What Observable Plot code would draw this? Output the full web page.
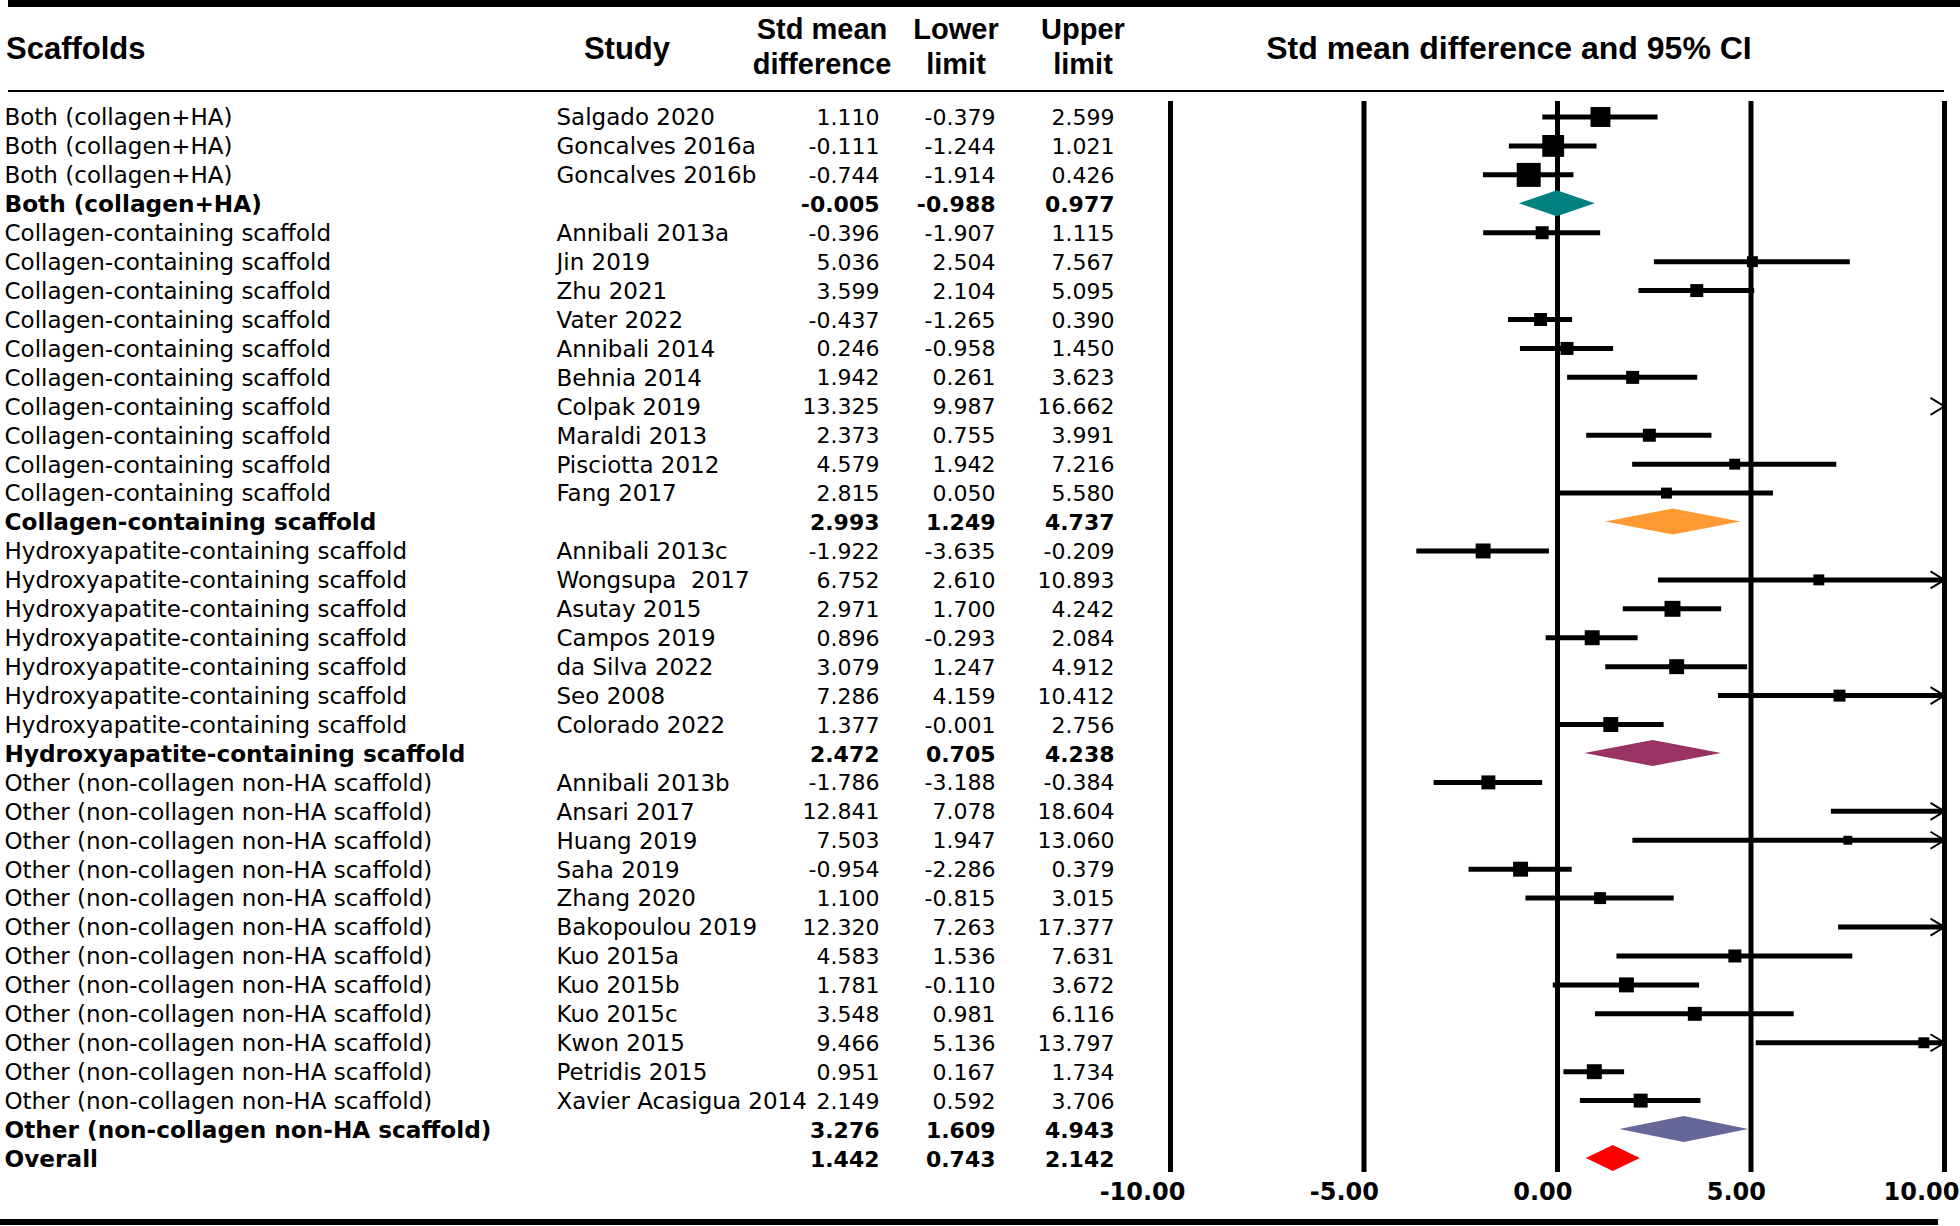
<!DOCTYPE html>
<html>
<head>
<meta charset="utf-8">
<script src="https://cdn.jsdelivr.net/npm/d3@7"></script>
<script src="https://cdn.jsdelivr.net/npm/@observablehq/plot@0.6"></script>
<style>
  html, body { margin: 0; padding: 0; background: #fff; }
  #wrap { position: relative; width: 1960px; height: 1226px; overflow: hidden; background: #fff; }
  .rule { position: absolute; background: #000; }
  .hd { position: absolute; font-family: "Liberation Sans", Arial, sans-serif; font-weight: bold; color: #000;
        white-space: nowrap; line-height: 1; transform: translate(-50%, -50%); }
  .hd.left { transform: translate(0, -50%); }
  #chart { position: absolute; left: 0; top: 92px; }
</style>
</head>
<body>
<div id="wrap">
  <div class="rule" style="left:8px; top:0px; width:1952px; height:7px;"></div>
  <div class="hd left" style="left:6px; top:48px; font-size:31px;">Scaffolds</div>
  <div class="hd" style="left:627px; top:48px; font-size:31px;">Study</div>
  <div class="hd" style="left:822px; top:29px; font-size:29px;">Std mean</div>
  <div class="hd" style="left:822px; top:64px; font-size:29px;">difference</div>
  <div class="hd" style="left:956px; top:29px; font-size:29px;">Lower</div>
  <div class="hd" style="left:956px; top:64px; font-size:29px;">limit</div>
  <div class="hd" style="left:1083px; top:29px; font-size:29px;">Upper</div>
  <div class="hd" style="left:1083px; top:64px; font-size:29px;">limit</div>
  <div class="hd" style="left:1509px; top:48px; font-size:32px;">Std mean difference and 95% CI</div>
  <div class="rule" style="left:8px; top:90px; width:1936px; height:2.5px;"></div>
  <div id="chart"></div>
  <div class="rule" style="left:0px; top:1219px; width:1938px; height:6px;"></div>
</div>
<script>
// ---- data ----
const scaffold = [
  "Both (collagen+HA)", "Both (collagen+HA)", "Both (collagen+HA)", "Both (collagen+HA)",
  "Collagen-containing scaffold", "Collagen-containing scaffold", "Collagen-containing scaffold",
  "Collagen-containing scaffold", "Collagen-containing scaffold", "Collagen-containing scaffold",
  "Collagen-containing scaffold", "Collagen-containing scaffold", "Collagen-containing scaffold",
  "Collagen-containing scaffold", "Collagen-containing scaffold",
  "Hydroxyapatite-containing scaffold", "Hydroxyapatite-containing scaffold", "Hydroxyapatite-containing scaffold",
  "Hydroxyapatite-containing scaffold", "Hydroxyapatite-containing scaffold", "Hydroxyapatite-containing scaffold",
  "Hydroxyapatite-containing scaffold", "Hydroxyapatite-containing scaffold",
  "Other (non-collagen non-HA scaffold)", "Other (non-collagen non-HA scaffold)", "Other (non-collagen non-HA scaffold)",
  "Other (non-collagen non-HA scaffold)", "Other (non-collagen non-HA scaffold)", "Other (non-collagen non-HA scaffold)",
  "Other (non-collagen non-HA scaffold)", "Other (non-collagen non-HA scaffold)", "Other (non-collagen non-HA scaffold)",
  "Other (non-collagen non-HA scaffold)", "Other (non-collagen non-HA scaffold)", "Other (non-collagen non-HA scaffold)",
  "Other (non-collagen non-HA scaffold)",
  "Overall"
];
const study = [
  "Salgado 2020", "Goncalves 2016a", "Goncalves 2016b", "",
  "Annibali 2013a", "Jin 2019", "Zhu 2021", "Vater 2022", "Annibali 2014", "Behnia 2014",
  "Colpak 2019", "Maraldi 2013", "Pisciotta 2012", "Fang 2017", "",
  "Annibali 2013c", "Wongsupa  2017", "Asutay 2015", "Campos 2019", "da Silva 2022", "Seo 2008", "Colorado 2022", "",
  "Annibali 2013b", "Ansari 2017", "Huang 2019", "Saha 2019", "Zhang 2020", "Bakopoulou 2019",
  "Kuo 2015a", "Kuo 2015b", "Kuo 2015c", "Kwon 2015", "Petridis 2015", "Xavier Acasigua 2014", "",
  ""
];
const smd = [
  1.110, -0.111, -0.744, -0.005,
  -0.396, 5.036, 3.599, -0.437, 0.246, 1.942, 13.325, 2.373, 4.579, 2.815, 2.993,
  -1.922, 6.752, 2.971, 0.896, 3.079, 7.286, 1.377, 2.472,
  -1.786, 12.841, 7.503, -0.954, 1.100, 12.320, 4.583, 1.781, 3.548, 9.466, 0.951, 2.149, 3.276,
  1.442
];
const lower = [
  -0.379, -1.244, -1.914, -0.988,
  -1.907, 2.504, 2.104, -1.265, -0.958, 0.261, 9.987, 0.755, 1.942, 0.050, 1.249,
  -3.635, 2.610, 1.700, -0.293, 1.247, 4.159, -0.001, 0.705,
  -3.188, 7.078, 1.947, -2.286, -0.815, 7.263, 1.536, -0.110, 0.981, 5.136, 0.167, 0.592, 1.609,
  0.743
];
const upper = [
  2.599, 1.021, 0.426, 0.977,
  1.115, 7.567, 5.095, 0.390, 1.450, 3.623, 16.662, 3.991, 7.216, 5.580, 4.737,
  -0.209, 10.893, 4.242, 2.084, 4.912, 10.412, 2.756, 4.238,
  -0.384, 18.604, 13.060, 0.379, 3.015, 17.377, 7.631, 3.672, 6.116, 13.797, 1.734, 3.706, 4.943,
  2.142
];
// relative study weights (box area)
const weight = [
  4.0, 4.8, 5.8, null,
  1.7, 1.2, 1.7, 1.7, 1.7, 1.7, 0.6, 1.7, 1.2, 1.2, null,
  2.25, 1.2, 2.56, 2.25, 2.25, 1.44, 2.25, null,
  1.96, 0.5, 0.8, 2.25, 1.44, 0.5, 1.7, 2.25, 1.96, 1.2, 2.25, 1.96, null,
  null
];
const xTicks = [-10, -5, 0, 5, 10];

// ---- styles ----
const summaryColor = {
  "Both (collagen+HA)": "#008080",
  "Collagen-containing scaffold": "#FF9933",
  "Hydroxyapatite-containing scaffold": "#993366",
  "Other (non-collagen non-HA scaffold)": "#666699",
  "Overall": "#FF0000"
};

const rows = scaffold.map((s, i) => ({
  row: i, scaffold: s, study: study[i], est: smd[i], lo: lower[i], hi: upper[i], w: weight[i],
  summary: weight[i] == null
}));
const xMin = d3.min(xTicks), xMax = d3.max(xTicks);
const studies = rows.filter(d => !d.summary);
const summaries = rows.filter(d => d.summary);
const diamondHalf = 0.45;
const diamondPts = summaries.flatMap(d => [
  {row: d.row, x: d.lo, y1: d.row, y2: d.row, color: summaryColor[d.scaffold]},
  {row: d.row, x: d.est, y1: d.row - diamondHalf, y2: d.row + diamondHalf, color: summaryColor[d.scaffold]},
  {row: d.row, x: d.hi, y1: d.row, y2: d.row, color: summaryColor[d.scaffold]}
]);
const fmt3 = d3.format(".3f");
const fmt = v => fmt3(v).replace("\u2212", "-");

const chevron = {
  draw(ctx, size) {
    ctx.moveTo(-14, -8.5);
    ctx.lineTo(0, 0);
    ctx.lineTo(-14, 8.5);
  }
};

const regular = rows.filter(d => !d.summary);
const bold = rows.filter(d => d.summary);

const textMarks = (data, weightStyle, labelSize, numSize) => {
  const base = {y: "row", frameAnchor: "left", fill: "black", fontFamily: "DejaVu Sans", fontWeight: weightStyle, dy: 1};
  return [
    Plot.text(data, {...base, text: "scaffold", dx: 4, textAnchor: "start", fontSize: labelSize}),
    Plot.text(data, {...base, text: "study", dx: 556, textAnchor: "start", fontSize: labelSize}),
    Plot.text(data, {...base, text: d => fmt(d.est), dx: 879, textAnchor: "end", fontSize: numSize}),
    Plot.text(data, {...base, text: d => fmt(d.lo), dx: 995, textAnchor: "end", fontSize: numSize}),
    Plot.text(data, {...base, text: d => fmt(d.hi), dx: 1114, textAnchor: "end", fontSize: numSize})
  ];
};

const chart = Plot.plot({
  width: 1960,
  height: 1120,
  marginTop: 9,
  marginBottom: 40,
  marginLeft: 0,
  marginRight: 0,
  style: {background: "white", fontFamily: "DejaVu Sans"},
  x: {domain: [xMin, xMax], range: [1170, 1944]},
  y: {domain: [0, rows.length - 1], range: [24.5, 24.5 + 28.93 * (rows.length - 1)], axis: null},
  r: {type: "sqrt", domain: [0, 5.8], range: [0, 13.54]},
  color: {type: "identity"},
  marks: [
    Plot.ruleX(xTicks, {stroke: "black", strokeWidth: 5}),
    Plot.axisX(xTicks, {
      tickSize: 0, tickPadding: 10, tickFormat: d => d.toFixed(2),
      fontSize: 24, fontWeight: "bold", fontFamily: "DejaVu Sans", fill: "black",
      textAnchor: "end", dx: 15
    }),
    Plot.ruleY(studies.filter(d => d.lo < xMax), {
      y: "row", x1: d => Math.max(d.lo, xMin), x2: d => Math.min(d.hi, xMax),
      stroke: "black", strokeWidth: 5
    }),
    Plot.dot(studies.filter(d => d.est <= xMax), {
      x: "est", y: "row", r: "w", symbol: "square", fill: "black", stroke: null
    }),
    Plot.dot(studies.filter(d => d.hi > xMax), {
      x: () => xMax, y: "row", r: 8, symbol: chevron, fill: "none", stroke: "black", strokeWidth: 2
    }),
    Plot.areaY(diamondPts, {x: "x", y1: "y1", y2: "y2", z: "row", fill: "color", curve: "linear"}),
    ...textMarks(regular, "normal", 23, 22),
    ...textMarks(bold, "bold", 23.2, 22)
  ]
});
document.getElementById("chart").appendChild(chart);
</script>
</body>
</html>
